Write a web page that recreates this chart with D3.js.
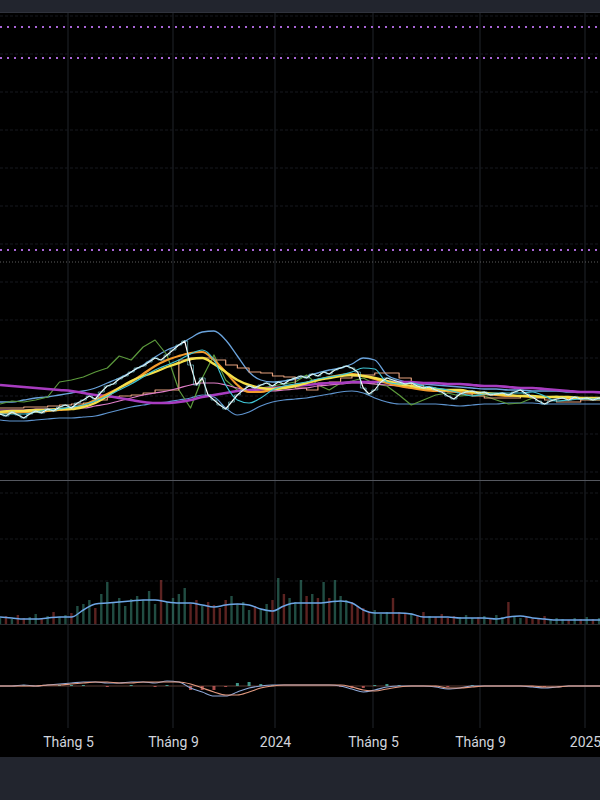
<!DOCTYPE html>
<html><head><meta charset="utf-8">
<script src="https://cdn.jsdelivr.net/npm/d3@7"></script>
<style>html,body{margin:0;padding:0;background:#22252e;}svg{display:block;}</style>
</head><body>
<script>
// ---------- DATA ----------
const tickDates = ["2023-05-01","2023-09-01","2024-01-01","2024-05-01","2024-09-01","2025-01-01"];
const tickLabels = ["Tháng 5","Tháng 9","2024","Tháng 5","Tháng 9","2025"];
const startDate = "2023-02-10";
const endDate = "2025-01-18";

// price (weekly closes)
const price = [16.6,16.4,16.8,16.5,16.2,16.6,16.9,16.7,17.1,16.9,
17.3,17.5,17.2,17.7,18.0,18.4,18.1,18.8,19.4,19.6,
20.1,20.4,20.8,21.2,21.4,21.8,22.2,22.0,22.5,23.0,
23.5,23.9,21.5,19.5,20.2,18.5,18.0,17.5,17.1,17.8,
18.5,19.0,19.4,19.2,19.5,19.7,19.4,19.8,19.6,20.0,
20.2,20.4,20.2,20.6,20.4,20.8,20.6,21.0,21.2,21.4,
21.2,20.8,19.2,18.6,19.0,19.8,20.2,20.0,19.8,19.6,
19.7,19.4,19.2,19.3,19.0,18.8,18.4,18.1,18.6,18.8,
18.9,18.7,18.8,18.5,18.6,18.7,18.5,18.8,19.0,18.6,
18.3,17.9,17.6,17.9,18.1,18.2,18.0,18.3,18.1,18.2,
18.0,18.2,18.1];
// weekly volume
const volume = [6,8,5,9,6,7,10,5,8,12,
7,9,11,18,20,24,16,30,42,22,
26,18,25,28,24,33,20,44,22,26,
30,36,20,24,18,22,19,16,24,28,
20,22,14,18,15,20,24,46,30,26,
22,44,28,30,26,42,26,44,28,24,
22,18,16,12,14,10,12,26,12,10,
11,9,12,8,7,10,6,8,7,9,
6,7,8,6,9,7,22,8,6,7,
5,6,8,5,6,5,4,6,5,7,
5,6,5];

// bi-weekly indicator lines
const maPurple = [19.5,19.4,19.3,19.2,19.1,19.0,18.9,18.7,18.5,18.4,18.2,18.0,17.8,17.7,17.7,17.8,18.0,18.3,18.5,18.7,18.9,19.0,19.1,19.2,19.3,19.4,19.5,19.6,19.7,19.7,19.8,19.8,19.8,19.8,19.8,19.8,19.7,19.7,19.6,19.6,19.5,19.4,19.4,19.3,19.2,19.2,19.1,19.0,18.9,18.8,18.8,18.7];
const maYellow = [16.8,16.9,16.9,17.0,17.0,17.1,17.1,17.3,17.7,18.4,19.2,19.9,20.4,20.8,21.3,21.7,22.1,22.2,21.6,20.8,20.0,19.5,19.2,19.1,19.2,19.4,19.7,20.0,20.2,20.4,20.5,20.4,20.2,19.9,19.6,19.4,19.2,19.1,19.0,19.0,18.8,18.7,18.6,18.5,18.4,18.4,18.3,18.3,18.3,18.2,18.2,18.2];
const maOrange = [16.7,16.7,16.8,16.8,16.9,17.0,17.1,17.5,18.0,18.6,19.2,19.8,20.6,21.4,22.0,22.4,22.7,22.8,22.0,20.8,19.5,18.8,18.8,19.1,19.3,19.5,19.7,20.0,20.3,20.5,20.6,20.4,20.1,19.7,19.4,19.2,19.0,18.9,18.9,18.8,18.7,18.6,18.5,18.4,18.4,18.3,18.3,18.3,18.2,18.2,18.2,18.2];
const bandUpper = [17.8,17.8,18.0,18.2,18.3,18.5,18.7,18.9,19.2,19.7,20.2,20.8,21.5,22.3,23.0,23.5,24.2,24.8,24.9,24.0,22.4,20.8,20.0,19.8,19.9,20.1,20.4,20.7,21.0,21.2,21.6,22.2,22.0,20.5,20.0,19.7,19.6,19.5,19.4,19.3,19.2,19.1,19.1,19.0,19.0,18.9,18.9,18.9,18.8,18.8,18.8,18.8];
const bandLower = [16.0,15.9,15.9,16.0,16.1,16.2,16.2,16.3,16.4,16.7,17.0,17.3,17.5,17.7,17.8,18.0,18.2,18.5,18.3,17.2,16.5,16.8,17.4,17.8,18.0,18.1,18.2,18.4,18.6,18.8,18.9,18.7,18.2,17.8,17.6,17.6,17.6,17.6,17.5,17.4,17.5,17.6,17.6,17.7,17.7,17.7,17.6,17.6,17.6,17.6,17.6,17.6];
const lagGreen = [17.6,17.9,17.8,18.0,18.3,19.8,20.0,20.3,20.8,21.2,22.4,22.0,23.3,24.0,22.5,19.0,17.2,20.2,22.5,20.0,19.0,18.8,19.2,19.4,19.6,19.8,20.5,19.5,19.0,19.7,19.9,20.2,19.6,19.4,18.5,17.5,18.0,18.5,18.7,18.4,18.5,18.4,18.0,17.6,17.7,18.2,18.3,18.4,18.2,18.1,18.0,18.0];
const baseSalmon = [17.2,17.2,17.3,17.3,17.4,17.5,17.6,17.7,18.0,18.3,18.4,18.5,18.7,19.0,19.0,22.0,22.2,22.2,22.0,21.5,21.2,20.8,20.7,20.4,20.3,19.2,19.0,19.7,19.8,20.2,20.4,20.5,20.7,20.7,20.2,19.5,19.2,19.0,18.8,18.6,18.4,18.2,18.2,18.2,18.4,18.2,18.0,17.8,17.8,18.0,18.0,18.0];
const maPink = [17.0,17.0,17.0,17.1,17.1,17.1,17.2,17.2,17.4,17.6,17.9,18.2,18.5,18.7,18.9,19.2,19.5,19.7,19.7,19.5,19.2,19.0,18.9,18.9,19.0,19.1,19.2,19.4,19.5,19.6,19.7,19.7,19.6,19.5,19.4,19.2,19.1,19.0,18.9,18.8,18.7,18.6,18.5,18.5,18.4,18.4,18.3,18.3,18.3,18.2,18.2,18.2];
const maCyan = [16.6,16.6,16.6,16.8,17.0,17.1,17.3,17.5,17.9,18.4,19.0,19.6,20.3,21.0,21.5,22.0,22.6,23.0,22.0,19.5,18.0,17.7,18.2,19.0,19.4,19.6,19.8,20.1,20.3,20.5,20.8,21.2,21.1,19.8,19.6,19.7,19.4,19.2,19.0,18.7,18.4,18.6,18.7,18.7,18.7,18.8,18.4,17.9,18.0,18.1,18.1,18.1];
const volMA = [7,6,5,5,6,7,7,14,20,21,22,23,24,24,22,21,21,19,17,19,20,19,15,13,18,21,21,21,22,23,21,14,11,11,11,10,7,7,7,6,6,6,5,7,8,6,5,4,4,4,4,4];
const macdLine = [0,0,1,0,1,2,3,4,4,3,3,4,4,3,5,4,-2,-6,-10,-10,-6,-2,0,1,1,1,1,1,1,0,-3,-6,-4,-1,0,0,0,-1,-3,-2,0,0,0,0,0,-1,-2,-1,0,0,0,0];
const signalLine = [0,0,0,0,1,1,2,3,4,4,3,3,4,4,4,4,2,-2,-6,-9,-9,-6,-2,0,1,1,1,1,1,1,-1,-4,-5,-3,-1,0,0,0,-2,-2,-1,0,0,0,0,0,-1,-1,0,0,0,0];
const macdHist = [0,0,1,0,0,1,1,1,0,-1,0,1,0,-1,1,0,-4,-4,-4,-1,3,4,2,1,0,0,0,0,0,-1,-2,-2,1,2,1,0,0,-1,-1,0,1,0,0,0,0,-1,-1,0,0,0,0,0];
const levelsPurple = [55.3, 52.2, 33.0];
const levelGray = [31.8];
const gridMain = [10.8,14.6,18.4,22.2,26.0,29.8,33.6,37.4,41.2,45.0,48.8,52.6,56.4];
const gridVol = [43, 85, 131];

// ---------- SETUP ----------
const W = 600, H = 800;
const parse = d3.timeParse("%Y-%m-%d");
const t0 = parse(startDate), t1 = parse(endDate);
const tDates = tickDates.map(parse);
const weekly = price.map((_, i) => d3.timeDay.offset(t0, 7 * i));
const biweekly = maPurple.map((_, i) => d3.timeDay.offset(t0, 14 * i));

const x = d3.scaleTime().domain([t0, ...tDates, t1]).range([0, 68, 173, 275, 373, 480, 585, 600]);
const yMain = d3.scaleLinear().domain([10, 57]).range([480, 10]);
const yVol = d3.scaleLinear().domain([0, 143]).range([624, 481]);
const yMacd = d3.scaleLinear().domain([-20, 20]).range([706, 666]);

const svg = d3.select("body").append("svg").attr("width", W).attr("height", H);
svg.append("rect").attr("width", W).attr("height", H).attr("fill", "#22252e");
svg.append("rect").attr("x", 0).attr("y", 12).attr("width", W).attr("height", 745).attr("fill", "#000");
svg.append("line").attr("x1", 0).attr("x2", W).attr("y1", 12.5).attr("y2", 12.5).attr("stroke", "#30333d");

const defs = svg.append("defs");
defs.append("clipPath").attr("id", "cm").append("rect").attr("x", 0).attr("y", 13).attr("width", W).attr("height", 467);
defs.append("clipPath").attr("id", "cv").append("rect").attr("x", 0).attr("y", 482).attr("width", W).attr("height", 260);

// vertical grid
svg.append("g").selectAll("line").data(tDates).join("line")
  .attr("x1", d => x(d)).attr("x2", d => x(d)).attr("y1", 13).attr("y2", 728)
  .attr("stroke", "#16181c").attr("stroke-width", 1.5);
// main horizontal grid
svg.append("g").selectAll("line").data(gridMain).join("line")
  .attr("x1", 0).attr("x2", W).attr("y1", d => yMain(d)).attr("y2", d => yMain(d))
  .attr("stroke", "#17191e").attr("stroke-dasharray", "3,2");
svg.append("g").selectAll("line").data(gridVol).join("line")
  .attr("x1", 0).attr("x2", W).attr("y1", d => yVol(d)).attr("y2", d => yVol(d))
  .attr("stroke", "#16181c").attr("stroke-dasharray", "3,2");

// pane separator
svg.append("line").attr("x1", 0).attr("x2", W).attr("y1", 480.5).attr("y2", 480.5).attr("stroke", "#55585f");

// levels
const main = svg.append("g").attr("clip-path", "url(#cm)");
main.selectAll(".lvp").data(levelsPurple).join("line")
  .attr("x1", 0).attr("x2", W).attr("y1", d => yMain(d)).attr("y2", d => yMain(d))
  .attr("stroke", "#a865d6").attr("stroke-width", 2).attr("stroke-dasharray", "2,5");
main.selectAll(".lvg").data(levelGray).join("line")
  .attr("x1", 0).attr("x2", W).attr("y1", d => yMain(d)).attr("y2", d => yMain(d))
  .attr("stroke", "#5f5f5f").attr("stroke-width", 1).attr("stroke-dasharray", "1,2");

function drawLine(g, dates, vals, yS, color, width, curve) {
  const ln = d3.line().x((d, i) => x(dates[i])).y(d => yS(d)).curve(curve || d3.curveMonotoneX);
  g.append("path").datum(vals).attr("d", ln).attr("fill", "none")
    .attr("stroke", color).attr("stroke-width", width).attr("stroke-linejoin", "round");
}
drawLine(main, biweekly, bandLower, yMain, "#5f95d0", 1.2);
drawLine(main, biweekly, bandUpper, yMain, "#6aa3dc", 1.3);
drawLine(main, biweekly, lagGreen, yMain, "#5c9a3c", 1.2, d3.curveLinear);
drawLine(main, biweekly, baseSalmon, yMain, "#e3a07c", 1.2, d3.curveStepAfter);
drawLine(main, biweekly, maPink, yMain, "#e07ec8", 1.2);
drawLine(main, biweekly, maPurple, yMain, "#a83cc0", 2.6);
drawLine(main, biweekly, maOrange, yMain, "#f39a2c", 2.2);
drawLine(main, biweekly, maYellow, yMain, "#f4e04a", 2.4);
drawLine(main, biweekly, maCyan, yMain, "#3fc4d4", 1.2);
drawLine(main, weekly, price, yMain, "#ffffff", 1.2, d3.curveLinear);
drawLine(main, weekly, price, yMain, "#7fd6e0", 0.6, d3.curveStep);

// volume
const vol = svg.append("g").attr("clip-path", "url(#cv)");
vol.append("line").attr("x1", 0).attr("x2", W).attr("y1", 624.5).attr("y2", 624.5).attr("stroke", "#2a2c31");
vol.selectAll("rect").data(volume).join("rect")
  .attr("x", (d, i) => x(weekly[i]) - 1.2).attr("width", 2.4)
  .attr("y", d => yVol(d)).attr("height", d => yVol(0) - yVol(d))
  .attr("fill", (d, i) => i > 0 && price[i] < price[i - 1] ? "#a8403d" : "#3d8c7a")
  .attr("opacity", 0.55);
drawLine(vol, biweekly, volMA, yVol, "#6ea6e6", 1.5);

// MACD
svg.append("line").attr("x1", 0).attr("x2", W).attr("y1", yMacd(0)).attr("y2", yMacd(0)).attr("stroke", "#5a3b33");
svg.append("g").selectAll("rect").data(macdHist).join("rect")
  .attr("x", (d, i) => x(biweekly[i]) - 1.5).attr("width", 3)
  .attr("y", d => Math.min(yMacd(d), yMacd(0))).attr("height", d => Math.abs(yMacd(d) - yMacd(0)))
  .attr("fill", d => d >= 0 ? "#4fb8a8" : "#d0605e").attr("opacity", 0.8);
drawLine(svg, biweekly, macdLine, yMacd, "#8fa8d8", 1.1);
drawLine(svg, biweekly, signalLine, yMacd, "#e39a80", 1.1);

// axis
const ax = svg.append("g").attr("transform", "translate(0,737)")
  .call(d3.axisBottom(x).tickValues(tDates).tickFormat((d, i) => tickLabels[i]).tickSize(0).tickPadding(0));
ax.select(".domain").remove();
ax.selectAll("text").attr("fill", "#d1d4dc").attr("font-size", 14)
  .attr("font-family", "Roboto, 'Noto Sans', sans-serif");
</script>
</body></html>
